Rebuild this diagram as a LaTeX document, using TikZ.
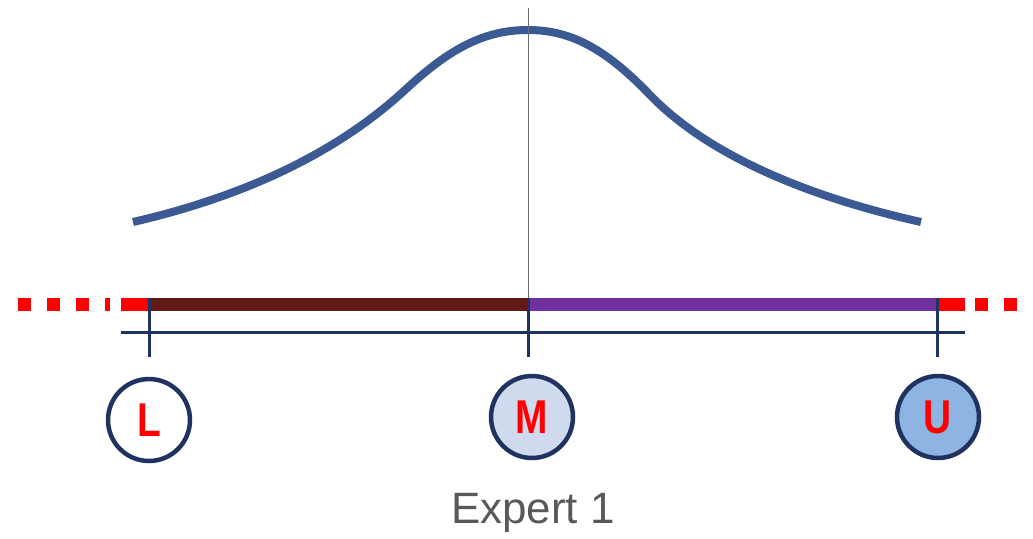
\documentclass[tikz,border=0pt]{standalone}
\usepackage{fontspec}
\setmainfont{Liberation Sans}
\newfontfamily\narrowfont[FakeStretch=0.82]{Liberation Sans}
\usetikzlibrary{arrows}
\definecolor{curveblue}{RGB}{59,89,146}
\definecolor{navy}{RGB}{31,50,96}
\definecolor{lowbar}{RGB}{96,26,22}
\definecolor{highbar}{RGB}{112,48,160}
\definecolor{midfill}{RGB}{207,218,238}
\definecolor{upfill}{RGB}{141,180,226}
\definecolor{labelgray}{RGB}{89,89,89}

\begin{document}
\begin{tikzpicture}[
    x=0.02cm, y=-0.02cm,
    point/.style={circle, draw=navy, line width=0.09cm, minimum size=1.64cm, inner sep=0pt,
                  text=red, font=\narrowfont\bfseries\fontsize{27}{27}\selectfont},
    bar/.style={line width=0.26cm},
    tick/.style={navy, line width=0.06cm},
    open/.style={red, bar, dash pattern=on 0.26cm off 0.32cm}
]
    \useasboundingbox (0,0) rectangle (1033,538);

    % density curve
    \draw[curveblue, line width=0.16cm]
        (133,222) .. controls (250,195) and (340,150) .. (405,90)
                  .. controls (450,48) and (485,30) .. (528,30)
                  .. controls (570,30) and (605,48) .. (650,95)
                  .. controls (705,152) and (800,195) .. (921,222);

    \coordinate (top) at (528,8);
    \coordinate (lo) at (149,304);
    \coordinate (mo) at (528,304);
    \coordinate (up) at (937,304);
    \coordinate (axisl) at (121,332);
    \coordinate (axisr) at (965,332);

    \draw[gray!80!navy, line width=0.02cm] (top) -- (mo);

    % range bars
    \draw[open] (18,304) -- (110,304);
    \draw[red, bar] (121,304) -- (lo);
    \draw[lowbar, bar] (lo) -- (mo);
    \draw[highbar, bar] (mo) -- (up);
    \draw[red, bar] (up) -- (965,304);
    \draw[open] (975,304) -- (1033,304);

    \draw[tick] (axisl) -- (axisr);

    \node[point, fill=white] (L) at (149,420) {L};
    \node[point, fill=midfill] (M) at (532,417) {M};
    \node[point, fill=upfill] (U) at (938,417) {U};

    \draw[tick] ([yshift=0.12cm]lo) -- ([yshift=-1.06cm]lo);
    \draw[tick] ([yshift=0.12cm]mo) -- ([yshift=-1.06cm]mo);
    \draw[tick] ([yshift=0.12cm]up) -- ([yshift=-1.06cm]up);

    \node[text=labelgray, font=\fontsize{25}{25}\selectfont] (expert) at (533,513) {Expert 1};
\end{tikzpicture}
\end{document}
